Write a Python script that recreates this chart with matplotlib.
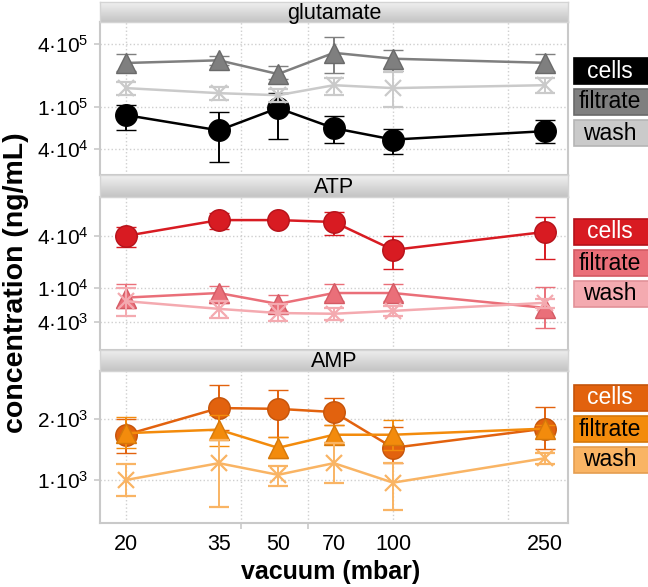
import numpy as np
import matplotlib
matplotlib.use('Agg')
import matplotlib.pyplot as plt
from matplotlib.patches import Rectangle
from matplotlib.colors import LinearSegmentedColormap
from matplotlib.ticker import FixedLocator, FixedFormatter, NullFormatter, NullLocator

plt.rcParams['font.family'] = ['Liberation Sans', 'DejaVu Sans']
plt.rcParams['mathtext.fontset'] = 'custom'
plt.rcParams['mathtext.rm'] = 'Liberation Sans'
plt.rcParams['mathtext.default'] = 'regular'

# ---------------- data ----------------
vacuum = [20, 35, 50, 70, 100, 250]
x_tick_labels = ['20', '35', '50', '70', '100', '250']
x_grid = [20, 40, 60, 100, 200]
x_marks = [40, 60]
fractions = ['cells', 'filtrate', 'wash']
panels = ['glutamate', 'ATP', 'AMP']

# glutamate
glu_cells = [8.4e4, 6.0e4, 9.8e4, 6.3e4, 4.9e4, 5.9e4]
glu_cells_hi = [1.05e5, 9.0e4, 1.36e5, 8.2e4, 6.2e4, 7.5e4]
glu_cells_lo = [6.0e4, 3.0e4, 5.0e4, 4.5e4, 3.6e4, 4.5e4]
glu_filt = [2.64e5, 2.8e5, 2.07e5, 3.3e5, 2.9e5, 2.65e5]
glu_filt_hi = [3.2e5, 3.1e5, 2.46e5, 4.7e5, 3.5e5, 3.2e5]
glu_filt_lo = [2.2e5, 2.5e5, 1.85e5, 2.1e5, 2.2e5, 2.2e5]
glu_wash = [1.52e5, 1.36e5, 1.3e5, 1.62e5, 1.52e5, 1.62e5]
glu_wash_hi = [1.73e5, 1.55e5, 1.5e5, 1.9e5, 2.16e5, 1.9e5]
glu_wash_lo = [1.3e5, 1.17e5, 1.12e5, 1.3e5, 1.0e5, 1.36e5]

# ATP
atp_cells = [4.0e4, 6.1e4, 6.1e4, 5.8e4, 2.75e4, 4.45e4]
atp_cells_hi = [5.1e4, 7.4e4, 6.6e4, 7.6e4, 4.0e4, 6.65e4]
atp_cells_lo = [3.0e4, 4.8e4, 5.6e4, 4.1e4, 1.65e4, 2.16e4]
atp_filt = [7.7e3, 8.7e3, 6.5e3, 8.7e3, 8.7e3, 5.85e3]
atp_filt_hi = [1.1e4, 1.05e4, 8.3e3, 1.1e4, 1.1e4, 1.03e4]
atp_filt_lo = [5.8e3, 6.7e3, 5.4e3, 7.0e3, 7.0e3, 3.4e3]
atp_wash = [7.0e3, 5.7e3, 5.1e3, 5.0e3, 5.4e3, 6.7e3]
atp_wash_hi = [1.0e4, 7.0e3, 6.5e3, 5.85e3, 6.2e3, 7.5e3]
atp_wash_lo = [4.7e3, 4.5e3, 4.1e3, 4.2e3, 4.7e3, 5.8e3]

# AMP
amp_cells = [1.67e3, 2.26e3, 2.24e3, 2.16e3, 1.44e3, 1.79e3]
amp_cells_hi = [2.0e3, 2.94e3, 2.78e3, 2.54e3, 1.83e3, 2.29e3]
amp_cells_lo = [1.36e3, 1.77e3, 1.63e3, 1.86e3, 1.21e3, 1.42e3]
amp_filt = [1.7e3, 1.77e3, 1.44e3, 1.67e3, 1.67e3, 1.79e3]
amp_filt_hi = [2.05e3, 2.1e3, 1.63e3, 1.86e3, 1.98e3, 1.86e3]
amp_filt_lo = [1.44e3, 1.47e3, 1.28e3, 1.54e3, 1.4e3, 1.66e3]
amp_wash = [1.0e3, 1.21e3, 1.06e3, 1.21e3, 0.97e3, 1.28e3]
amp_wash_hi = [1.2e3, 1.57e3, 1.17e3, 1.52e3, 1.21e3, 1.36e3]
amp_wash_lo = [0.83e3, 0.74e3, 0.93e3, 0.97e3, 0.71e3, 1.2e3]

series = {
    'glutamate': [(glu_cells, glu_cells_lo, glu_cells_hi),
                  (glu_filt, glu_filt_lo, glu_filt_hi),
                  (glu_wash, glu_wash_lo, glu_wash_hi)],
    'ATP': [(atp_cells, atp_cells_lo, atp_cells_hi),
            (atp_filt, atp_filt_lo, atp_filt_hi),
            (atp_wash, atp_wash_lo, atp_wash_hi)],
    'AMP': [(amp_cells, amp_cells_lo, amp_cells_hi),
            (amp_filt, amp_filt_lo, amp_filt_hi),
            (amp_wash, amp_wash_lo, amp_wash_hi)],
}

colors = {
    'glutamate': ['#000000', '#7f7f7f', '#cacaca'],
    'ATP': ['#d81b22', '#ea6f79', '#f4aab0'],
    'AMP': ['#e2620e', '#f38b0c', '#f9b464'],
}
edge_colors = {
    'glutamate': ['#000000', '#6a6a6a', '#b5b5b5'],
    'ATP': ['#b5121a', '#d45a64', '#e29198'],
    'AMP': ['#c5540a', '#d6780a', '#e59e50'],
}
text_colors = ['white', 'black', 'black']
markers = ['o', '^', 'x']
marker_sizes = [15.5, 14.5, 12]

y_ticks = {
    'glutamate': [4e4, 1e5, 4e5],
    'ATP': [4e3, 1e4, 4e4],
    'AMP': [1e3, 2e3],
}
y_tick_labels = {
    'glutamate': ['4·10$^4$', '1·10$^5$', '4·10$^5$'],
    'ATP': ['4·10$^3$', '1·10$^4$', '4·10$^4$'],
    'AMP': ['1·10$^3$', '2·10$^3$'],
}
y_limits = {
    'glutamate': (2.25e4, 6.5e5),
    'ATP': (1.9e3, 1.13e5),
    'AMP': (614, 3.44e3),
}

# ---------------- layout (pixels) ----------------
W, H = 648, 587
fig = plt.figure(figsize=(W / 100, H / 100), dpi=100)

def fx(px):
    return px / W

def fy(py):
    return 1 - py / H

left_px, right_px = 100, 568
plot_boxes = [(22, 175), (197, 350), (371, 523)]
strip_boxes = [(2, 22), (175, 197), (350, 371)]
legend_top = [58, 219, 385]
frame_col = '#c9c9c9'
grid_col = '#cfcfcf'

grad = np.linspace(0, 1, 50).reshape(-1, 1)
strip_cmap = LinearSegmentedColormap.from_list('s', ['#f0f0f0', '#c4c4c4'])

for i, name in enumerate(panels):
    top, bot = plot_boxes[i]
    ax = fig.add_axes([fx(left_px), fy(bot), fx(right_px - left_px), (bot - top) / H])
    ax.set_xscale('log')
    ax.set_yscale('log')
    ax.set_xlim(17.1, 287)
    ax.set_ylim(*y_limits[name])

    for g in x_grid:
        ax.axvline(g, color=grid_col, linestyle=':', lw=1.0, zorder=0)

    for j in range(3):
        y, lo, hi = series[name][j]
        y = np.array(y)
        yerr = np.vstack([y - np.array(lo), np.array(hi) - y])
        is_x = markers[j] == 'x'
        ax.errorbar(vacuum, y, yerr=yerr, color=colors[name][j],
                    marker=markers[j], markersize=marker_sizes[j],
                    markerfacecolor=colors[name][j],
                    markeredgecolor=colors[name][j] if is_x else edge_colors[name][j],
                    markeredgewidth=1.6 if is_x else 1.0,
                    lw=1.8, elinewidth=1.4, capsize=7.5, capthick=1.4, zorder=3 + j)

    ax.xaxis.set_major_locator(FixedLocator(vacuum))
    ax.xaxis.set_minor_locator(FixedLocator(x_marks))
    ax.xaxis.set_minor_formatter(NullFormatter())
    if i == 2:
        ax.xaxis.set_major_formatter(FixedFormatter(x_tick_labels))
    else:
        ax.xaxis.set_major_formatter(NullFormatter())
    ax.tick_params(axis='x', which='major', length=0, labelsize=15.5, pad=8)
    ax.tick_params(axis='x', which='minor', length=4 if i == 2 else 0,
                   color=frame_col, width=1.2)

    ax.yaxis.set_major_locator(FixedLocator(y_ticks[name]))
    ax.yaxis.set_major_formatter(FixedFormatter(y_tick_labels[name]))
    ax.yaxis.set_minor_locator(NullLocator())
    ax.yaxis.grid(True, which='major', color=grid_col, linestyle=':', lw=1.0)
    ax.set_axisbelow(True)
    ax.tick_params(axis='y', which='major', length=4, color=frame_col,
                   labelsize=15, pad=4, width=1.2)
    for s in ax.spines.values():
        s.set_color(frame_col)
        s.set_linewidth(1.5)

    # strip
    st, sb = strip_boxes[i]
    sax = fig.add_axes([fx(left_px), fy(sb), fx(right_px - left_px), (sb - st) / H])
    sax.imshow(grad, aspect='auto', cmap=strip_cmap, extent=[0, 1, 0, 1])
    sax.set_xlim(0, 1)
    sax.set_ylim(0, 1)
    sax.set_xticks([])
    sax.set_yticks([])
    for s in sax.spines.values():
        s.set_color('#d4d4d4')
        s.set_linewidth(1.0)
    sax.text(0.5, 0.45, name, ha='center', va='center', fontsize=15.5, color='black')

    # legend boxes
    for j, lab in enumerate(fractions):
        bt = legend_top[i] + j * 31
        rect = Rectangle((fx(574), fy(bt + 26)), fx(80), 26 / H,
                         transform=fig.transFigure, facecolor=colors[name][j],
                         edgecolor=edge_colors[name][j], lw=1.2, clip_on=False)
        fig.patches.append(rect)
        fig.text(fx(610), fy(bt + 13), lab, ha='center', va='center',
                 fontsize=16.5, color=text_colors[j])

fig.text(fx(331), fy(572), 'vacuum (mbar)', ha='center', va='center',
         fontsize=18, fontweight='bold')
fig.text(fx(16), fy(283), 'concentration (ng/mL)', rotation=90, ha='center',
         va='center', fontsize=20.5, fontweight='bold')

fig.savefig('out.png', dpi=100)
